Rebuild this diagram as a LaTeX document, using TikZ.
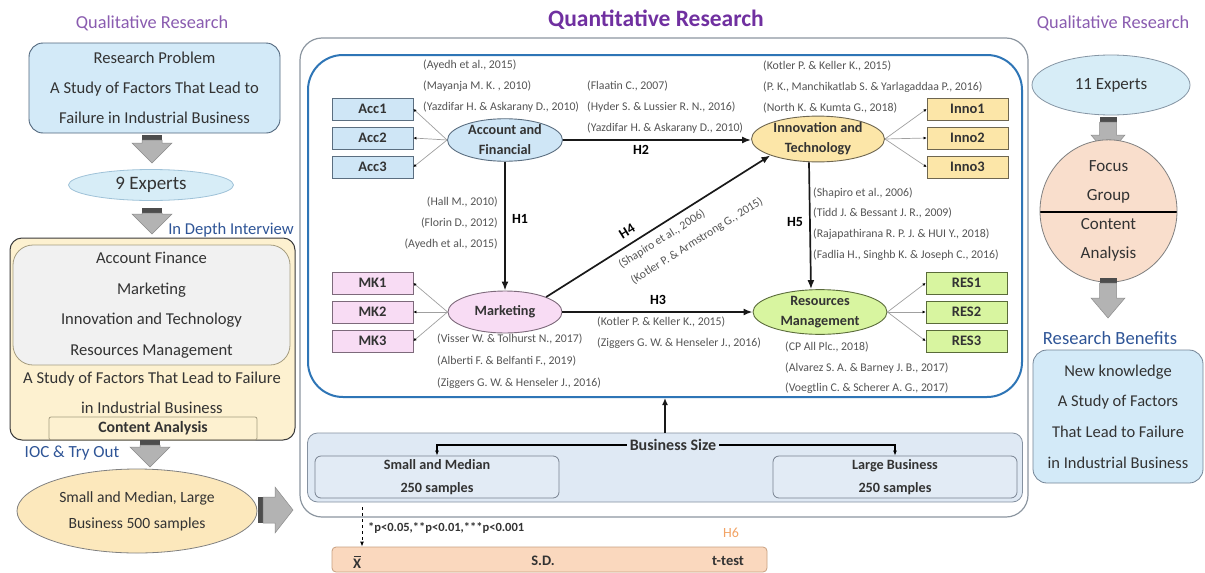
\documentclass[tikz,border=0pt]{standalone}
\usepackage{fontspec}
\setmainfont{Carlito}
\usetikzlibrary{shapes.geometric,arrows.meta,calc}
\definecolor{txt}{HTML}{333333}
\definecolor{qualc}{HTML}{8A5CB0}
\definecolor{quantc}{HTML}{7030A0}
\definecolor{bluetc}{HTML}{2F5597}
\definecolor{citec}{HTML}{555555}
\definecolor{lblue}{HTML}{D3EAF8}
\definecolor{lbluedr}{HTML}{51677D}
\definecolor{efill}{HTML}{D7EDF7}
\definecolor{edraw}{HTML}{9FC2D8}
\definecolor{yel}{HTML}{FDF1D0}
\definecolor{yeldr}{HTML}{3A3A3A}
\definecolor{grayin}{HTML}{F1F1F1}
\definecolor{grayindr}{HTML}{A59C80}
\definecolor{smfill}{HTML}{FCE8BC}
\definecolor{smdr}{HTML}{808080}
\definecolor{accf}{HTML}{CFE6F6}
\definecolor{accd}{HTML}{5B6E80}
\definecolor{innof}{HTML}{FCE6A8}
\definecolor{innod}{HTML}{6E6650}
\definecolor{mkf}{HTML}{F8DCF4}
\definecolor{mkd}{HTML}{7D6A7B}
\definecolor{resf}{HTML}{D8F5A0}
\definecolor{resd}{HTML}{5A6B3A}
\definecolor{innerb}{HTML}{2E75B6}
\definecolor{outerg}{HTML}{8C96A0}
\definecolor{bsf}{HTML}{DFE9F4}
\definecolor{bsd}{HTML}{8591A0}
\definecolor{orf}{HTML}{FAD8BE}
\definecolor{ord}{HTML}{C8A080}
\definecolor{h6c}{HTML}{F2A365}
\definecolor{focf}{HTML}{F9DECC}
\definecolor{arrowc}{HTML}{B3B3B3}
\definecolor{arrowd}{HTML}{8C8C8C}
\definecolor{stripc}{HTML}{4D4D4D}
\definecolor{thinc}{HTML}{A0A0A0}
\newcommand\fs[2]{\fontsize{#1}{#2}\selectfont}
% down block arrow: x, ytop, ytip, shaft half, head half
\newcommand\gdown[5]{%
 \fill[stripc] ({#1-#4},#2) rectangle ({#1+#4},{#2+5});
 \filldraw[fill=arrowc,draw=arrowd,line width=0.5pt] ({#1-#4},{#2+5}) -- ({#1+#4},{#2+5}) -- ({#1+#4},{#3-20}) -- ({#1+#5},{#3-20}) -- (#1,#3) -- ({#1-#5},{#3-20}) -- ({#1-#4},{#3-20}) -- cycle;}
% right block arrow: xleft, xtip, yc, shaft half, head half
\newcommand\gright[5]{%
 \fill[stripc] (#1,{#3-#4}) rectangle ({#1+5},{#3+#4});
 \filldraw[fill=arrowc,draw=arrowd,line width=0.5pt] ({#1+5},{#3-#4}) -- ({#2-18},{#3-#4}) -- ({#2-18},{#3-#5}) -- (#2,#3) -- ({#2-18},{#3+#5}) -- ({#2-18},{#3+#4}) -- ({#1+5},{#3+#4}) -- cycle;}
\newcommand\xbarsym{{\bfseries\rlap{\hspace{0.06em}\rule[0.74em]{0.46em}{0.09em}}X}}
\tikzset{
 qual/.style={text=qualc, font=\fs{18.3}{21}},
 bluet/.style={text=bluetc, font=\fs{16.6}{19}},
 body/.style={font=\fs{16.6}{30}, align=center, inner sep=0pt},
 cite/.style={text=citec, font=\fs{11.8}{21}, align=left, inner sep=0pt},
 hlab/.style={font=\bfseries\fs{14}{16}, text=black, inner sep=0pt},
 ind/.style={draw=#1d, fill=#1f, line width=0.8pt, minimum width=81pt, minimum height=22pt, font=\bfseries\fs{14.5}{16}, inner sep=0pt},
 lat/.style={ellipse, draw=#1d, fill=#1f, line width=0.9pt, inner sep=0pt, font=\bfseries\fs{14.2}{20}, align=center},
 mainarr/.style={-{Latex[length=9pt,width=7pt]}, line width=1.7pt, draw=black!90},
 thin/.style={draw=thinc, line width=0.7pt, -{Latex[length=3pt,width=3pt,color=black]}},
 smallarr/.style={-{Latex[length=5pt,width=4pt]}, line width=1.2pt},
}
\begin{document}
\begin{tikzpicture}[x=1pt,y=-1pt, every node/.style={text=txt}]
\useasboundingbox[fill=white] (0,0) rectangle (1205,573);

% ===== centre frames =====
\node[draw=outerg, line width=1.2pt, rounded corners=22pt, minimum width=728pt, minimum height=479pt] (outer) at (664,277.5) {};
\node[draw=innerb, line width=2pt, rounded corners=35pt, minimum width=714pt, minimum height=342pt] (inner) at (665,226) {};
\node[draw=bsd, fill=bsf, line width=0.8pt, rounded corners=10pt, minimum width=715pt, minimum height=69pt] (bsbox) at (665,467.5) {};
\node[font=\bfseries\fs{23.5}{26}, text=quantc] (qt) at (656,20) {Quantitative Research};

% ===== left column =====
\node[qual] (ql1) at (152,23) {Qualitative Research};
\node[body, draw=lbluedr, fill=lblue, line width=0.9pt, rounded corners=14pt, minimum width=251pt, minimum height=90pt] (rp) at (154.5,88) {Research Problem\\A Study of Factors That Lead to\\Failure in Industrial Business};
\gdown{152}{135}{163}{10}{20}
\node[ellipse, draw=edraw, fill=efill, line width=0.8pt, minimum width=165pt, minimum height=31pt, inner sep=0pt, font=\fs{19}{21}] (e9) at (151,185) {9 Experts};
\gdown{152}{208}{234}{10}{20}
\node[bluet] (idi) at (231,230) {In Depth Interview};
\node[draw=yeldr, fill=yel, line width=1pt, rounded corners=12pt, minimum width=285pt, minimum height=202pt] (fb) at (152.5,339) {};
\node[body, draw=grayindr, fill=grayin, line width=0.8pt, rounded corners=20pt, minimum width=277pt, minimum height=120pt, font=\fs{16.6}{30.5}] (dims) at (151.5,305) {Account Finance\\Marketing\\Innovation and Technology\\Resources Management};
\node[body] (study) at (152,393) {A Study of Factors That Lead to Failure\\in Industrial Business};
\node[draw=grayindr, line width=0.8pt, rounded corners=2pt, minimum width=208pt, minimum height=23pt, inner sep=0pt, font=\bfseries\fs{15.8}{17}] (ca) at (153,428.5) {Content Analysis};
\gdown{150}{440}{467}{10}{20}
\node[bluet, font=\fs{17}{19}] (ioc) at (72,453) {IOC \& Try Out};
\node[ellipse, draw=smdr, fill=smfill, line width=0.8pt, minimum width=240pt, minimum height=84pt, inner sep=0pt, align=center, font=\fs{15.6}{26}] (samp) at (137,511) {Small and Median, Large\\Business 500 samples};
\gright{258}{293}{510}{13}{23}

% ===== indicators =====
\node[ind=acc] (acc1) at (372.5,109) {Acc1};
\node[ind=acc] (acc2) at (372.5,138) {Acc2};
\node[ind=acc] (acc3) at (372.5,167) {Acc3};
\node[ind=mk] (mk1) at (372.5,283) {MK1};
\node[ind=mk] (mk2) at (372.5,312) {MK2};
\node[ind=mk] (mk3) at (372.5,341) {MK3};
\node[ind=inno] (in1) at (967.5,109) {Inno1};
\node[ind=inno] (in2) at (967.5,138) {Inno2};
\node[ind=inno] (in3) at (967.5,167) {Inno3};
\node[ind=res] (re1) at (966.5,283) {RES1};
\node[ind=res] (re2) at (966.5,312) {RES2};
\node[ind=res] (re3) at (966.5,341) {RES3};

% ===== latent variables =====
\node[lat=acc, minimum width=115pt, minimum height=40pt] (af) at (505,140) {Account and\\Financial};
\node[lat=inno, minimum width=133pt, minimum height=42pt] (it) at (818,139) {Innovation and\\Technology};
\node[lat=mk, minimum width=114pt, minimum height=42pt] (mk) at (505,312) {Marketing};
\node[lat=res, minimum width=134pt, minimum height=42pt] (rm) at (820,312) {Resources\\Management};

\foreach \b in {acc1,acc2,acc3} \draw[thin] (af.west) -- (\b.east);
\foreach \b in {mk1,mk2,mk3} \draw[thin] (mk.west) -- (\b.east);
\foreach \b in {in1,in2,in3} \draw[thin] (it.east) -- (\b.west);
\foreach \b in {re1,re2,re3} \draw[thin] (rm.east) -- (\b.west);

% ===== hypotheses =====
\draw[mainarr] (af.south) -- (mk.north);
\draw[mainarr] (af.east) -- (it.west |- af.east);
\draw[mainarr] (mk.east) -- (rm.west |- mk.east);
\draw[mainarr] ([xshift=-9pt]it.south) -- ([xshift=-9pt]rm.north);
\draw[mainarr] (mk.20) -- (it.199);
\node[hlab] (h1) at (520,219) {H1};
\node[hlab] (h2) at (641,150) {H2};
\node[hlab] (h3) at (658,300) {H3};
\node[hlab] (h5) at (795,222) {H5};
\node[hlab, rotate=32] (h4) at (627,231) {H4};

% ===== citations =====
\node[cite, anchor=west] (c1) at (423,86) {(Ayedh et al., 2015)\\(Mayanja M. K. , 2010)\\(Yazdifar H. \& Askarany D., 2010)};
\node[cite, anchor=west] (c2) at (587,107) {(Flaatin C., 2007)\\(Hyder S. \& Lussier R. N., 2016)\\(Yazdifar H. \& Askarany D., 2010)};
\node[cite, anchor=west] (c3) at (763,87) {(Kotler P. \& Keller K., 2015)\\(P. K., Manchikatlab S. \& Yarlagaddaa P., 2016)\\(North K. \& Kumta G., 2018)};
\node[cite, anchor=east, align=right] (c4) at (498,223) {(Hall M., 2010)\\(Florin D., 2012)\\(Ayedh et al., 2015)};
\node[cite, anchor=west, font=\fs{11.8}{20.7}] (c5) at (813,224) {(Shapiro et al., 2006)\\(Tidd J. \& Bessant J. R., 2009)\\(Rajapathirana R. P. J. \& HUI Y., 2018)\\(Fadlia H., Singhb K. \& Joseph C., 2016)};
\node[cite, anchor=west, font=\fs{11.8}{22}] (c6) at (437,361) {(Visser W. \& Tolhurst N., 2017)\\(Alberti F. \& Belfanti F., 2019)\\(Ziggers G. W. \& Henseler J., 2016)};
\node[cite, anchor=west] (c7) at (597,332.5) {(Kotler P. \& Keller K., 2015)\\(Ziggers G. W. \& Henseler J., 2016)};
\node[cite, anchor=west, font=\fs{11.8}{20.5}] (c8) at (785,368) {(CP All Plc., 2018)\\(Alvarez S. A. \& Barney J. B., 2017)\\(Voegtlin C. \& Scherer A. G., 2017)};
\node[cite, rotate=32] (c9) at (662,239) {(Shapiro et al., 2006)};
\node[cite, rotate=32] (c10) at (697,241) {(Kotler P. \& Armstrong G., 2015)};

% ===== business size =====
\draw[mainarr, line width=1.6pt, -{Latex[length=7pt,width=6pt]}] (bsbox.north) -- (inner.south);
\node[font=\bfseries\fs{16}{18}, fill=bsf, inner sep=3pt] (bsz) at (673,445) {Business Size};
\node[draw=bsd!90!black, fill=bsf!90!white, line width=0.8pt, rounded corners=6pt, minimum width=244pt, minimum height=42pt, inner sep=0pt, align=center, font=\bfseries\fs{14.2}{23}] (smb) at (437,477) {Small and Median\\250 samples};
\node[draw=bsd!90!black, fill=bsf!90!white, line width=0.8pt, rounded corners=6pt, minimum width=244pt, minimum height=42pt, inner sep=0pt, align=center, font=\bfseries\fs{14.2}{23}] (lgb) at (895,477) {Large Business\\250 samples};
\draw[smallarr] (bsz.west) -| (smb.north);
\draw[smallarr] (bsz.east) -| (lgb.north);

% ===== bottom bar =====
\node[draw=ord, fill=orf, line width=0.8pt, rounded corners=4pt, minimum width=435pt, minimum height=25pt] (obar) at (549.5,559.5) {};
\node[font=\fs{14.5}{16}, inner sep=0pt] (xbar) at (357,562) {\xbarsym};
\node[font=\bfseries\fs{14.5}{16}] (sd) at (543,561) {S.D.};
\node[font=\bfseries\fs{14.5}{16}] (tt) at (728,561) {t-test};
\coordinate (dtop) at (362,507);
\draw[dashed, line width=1pt, -{Latex[length=5pt,width=4pt]}] (dtop) -- (dtop |- obar.north);
\node[font=\bfseries\fs{12.5}{14}, anchor=west, inner sep=0pt] (pv) at (368,528) {*p<0.05,**p<0.01,***p<0.001};
\node[font=\fs{14}{16}, text=h6c] (h6) at (731,533) {H6};

% ===== right column =====
\node[qual] (ql2) at (1113,23) {Qualitative Research};
\node[ellipse, draw=lbluedr!70, fill=efill, line width=0.8pt, minimum width=158pt, minimum height=60pt, inner sep=0pt, font=\fs{17}{20}] (e11) at (1111,85) {11 Experts};
\gdown{1108}{117}{155}{8.5}{17}
\node[ellipse, draw=smdr, fill=focf, line width=0.8pt, minimum width=137pt, minimum height=112pt, inner sep=0pt, align=center, font=\fs{17}{29},
 path picture={\draw[line width=1.2pt, black] ([yshift=-1pt]path picture bounding box.west) -- ([yshift=-1pt]path picture bounding box.east);}] (fg) at (1108.5,211) {Focus\\Group\\Content\\Analysis};
\gdown{1108}{278}{318}{8.5}{17}
\node[bluet, font=\fs{18.6}{21}] (rb) at (1110,338) {Research Benefits};
\node[body, draw=lbluedr!80, fill=lblue, line width=0.8pt, rounded corners=14pt, minimum width=170pt, minimum height=133pt, font=\fs{16.5}{30.7}] (ben) at (1118,416.5) {New knowledge\\A Study of Factors\\That Lead to Failure\\in Industrial Business};
\end{tikzpicture}
\end{document}
